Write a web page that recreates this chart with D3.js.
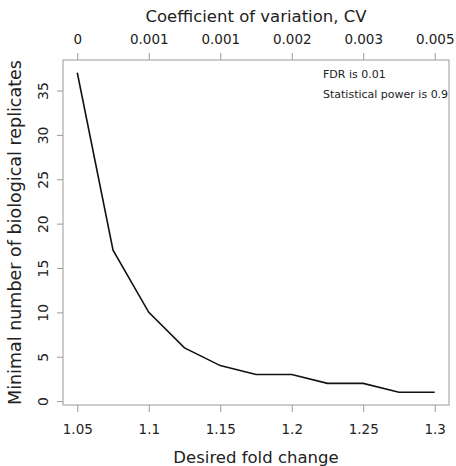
<!DOCTYPE html>
<html>
<head>
<meta charset="utf-8">
<script src="https://cdn.jsdelivr.net/npm/d3@7"></script>
<style>
  body { margin: 0; background: #fff; }
  text { font-family: "DejaVu Sans", sans-serif; fill: #222; }
</style>
</head>
<body>
<svg id="chart" width="456" height="466"></svg>
<script>
// --- Data ---
const foldChange = [1.05, 1.075, 1.1, 1.125, 1.15, 1.175, 1.2, 1.225, 1.25, 1.275, 1.3];
const replicates = [37, 17, 10, 6, 4, 3, 3, 2, 2, 1, 1];
const xTicks = [1.05, 1.1, 1.15, 1.2, 1.25, 1.3];
const xTickLabels = ["1.05", "1.1", "1.15", "1.2", "1.25", "1.3"];
const cvTickLabels = ["0", "0.001", "0.001", "0.002", "0.003", "0.005"];
const yTicks = [0, 5, 10, 15, 20, 25, 30, 35];
const notes = ["FDR is 0.01", "Statistical power is 0.9"];

// --- Set up ---
const svg = d3.select("#chart");
const margin = { top: 60, right: 7, bottom: 61, left: 63 };
const width = +svg.attr("width");
const height = +svg.attr("height");

// R style 4% padding on both axes
const xPad = (d3.max(foldChange) - d3.min(foldChange)) * 0.04;
const yPad = (d3.max(replicates) - d3.min(replicates)) * 0.04;

const x = d3.scaleLinear()
  .domain([d3.min(foldChange) - xPad, d3.max(foldChange) + xPad])
  .range([margin.left, width - margin.right]);

const y = d3.scaleLinear()
  .domain([d3.min(replicates) - yPad, d3.max(replicates) + yPad])
  .range([height - margin.bottom, margin.top]);

const axisColor = "#9a9a9a";

function styleAxis(g) {
  g.select(".domain").remove();
  g.selectAll(".tick line").attr("stroke", axisColor);
  g.selectAll(".tick text").attr("fill", "#222").attr("font-family", "DejaVu Sans, sans-serif");
}

// Bottom axis
svg.append("g")
  .attr("transform", `translate(0,${height - margin.bottom})`)
  .call(d3.axisBottom(x).tickValues(xTicks).tickSize(7).tickPadding(12)
    .tickFormat((d, i) => xTickLabels[i]))
  .call(styleAxis)
  .selectAll(".tick text").attr("font-size", 13.5);

// Top axis (coefficient of variation)
svg.append("g")
  .attr("transform", `translate(0,${margin.top})`)
  .call(d3.axisTop(x).tickValues(xTicks).tickSize(7).tickPadding(9)
    .tickFormat((d, i) => cvTickLabels[i]))
  .call(styleAxis)
  .selectAll(".tick text").attr("font-size", 13.5);

// Left axis, labels rotated as in R
svg.append("g")
  .attr("transform", `translate(${margin.left},0)`)
  .call(d3.axisLeft(y).tickValues(yTicks).tickSize(6))
  .call(styleAxis)
  .selectAll(".tick text")
  .attr("font-size", 14)
  .attr("x", 0)
  .attr("y", -15)
  .attr("dy", 0)
  .attr("text-anchor", "middle")
  .attr("transform", "rotate(-90)");

// Plot box
svg.append("rect")
  .attr("x", margin.left)
  .attr("y", margin.top)
  .attr("width", width - margin.left - margin.right)
  .attr("height", height - margin.top - margin.bottom)
  .attr("fill", "none")
  .attr("stroke", axisColor)
  .attr("stroke-width", 1);

// Line
const line = d3.line()
  .x((d, i) => x(foldChange[i]))
  .y(d => y(d));

svg.append("path")
  .datum(replicates)
  .attr("fill", "none")
  .attr("stroke", "#111")
  .attr("stroke-width", 1.6)
  .attr("d", line);

// Notes
svg.selectAll(".note")
  .data(notes)
  .join("text")
  .attr("class", "note")
  .attr("x", 323)
  .attr("y", (d, i) => 78 + i * 20)
  .attr("font-size", 11)
  .text(d => d);

// Axis titles
const cx = (margin.left + width - margin.right) / 2;
const cy = (margin.top + height - margin.bottom) / 2;

svg.append("text")
  .attr("x", cx)
  .attr("y", 463)
  .attr("text-anchor", "middle")
  .attr("font-size", 16.5)
  .text("Desired fold change");

svg.append("text")
  .attr("x", cx)
  .attr("y", 22)
  .attr("text-anchor", "middle")
  .attr("font-size", 16.5)
  .text("Coefficient of variation, CV");

svg.append("text")
  .attr("transform", `translate(21,${cy}) rotate(-90)`)
  .attr("text-anchor", "middle")
  .attr("font-size", 17.5)
  .text("Minimal number of biological replicates");
</script>
</body>
</html>
